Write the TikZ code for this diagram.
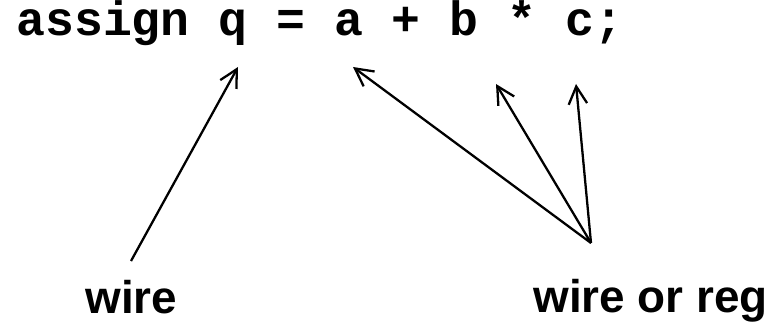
\documentclass[tikz,border=0pt]{standalone}
\usepackage{fontspec}
\setmainfont{Liberation Sans}
\newfontfamily\codefont{Liberation Mono}
\usepackage{tikz}
\usetikzlibrary{arrows.meta}
\usetikzlibrary{positioning}

\tikzset{
  ptr/.style={line width=1.3pt, -{Straight Barb[length=10pt,width=10.5pt]}},
  lbl/.style={inner sep=0pt, anchor=base west, font=\fontsize{26.1}{30}\selectfont\bfseries},
}

\begin{document}
\begin{tikzpicture}
        \useasboundingbox (0,0) rectangle (15.54,-6.5);
        \node[inner sep=0pt, anchor=base west, font=\fontsize{27.4}{30}\selectfont\codefont\bfseries] (code) at (0.32,-0.72) {assign q = a + b * c;};
        \node[lbl] (wire) at (1.7,-6.26) {wire};
        \node[lbl] (wireorreg) at (10.66,-6.24) {wire or reg};
        % arrow ends
        \coordinate (wirebase) at (2.62,-5.22);
        \coordinate (hub) at (11.82,-4.86);
        \coordinate (qtip) at (4.76,-1.34);
        \coordinate (atip) at (7.06,-1.34);
        \coordinate (btip) at (9.92,-1.68);
        \coordinate (ctip) at (11.52,-1.68);
        \draw[ptr] (wirebase) -- (qtip);
        \draw[ptr] (hub) -- (atip);
        \draw[ptr] (hub) -- (btip);
        \draw[ptr] (hub) -- (ctip);
\end{tikzpicture}
\end{document}
